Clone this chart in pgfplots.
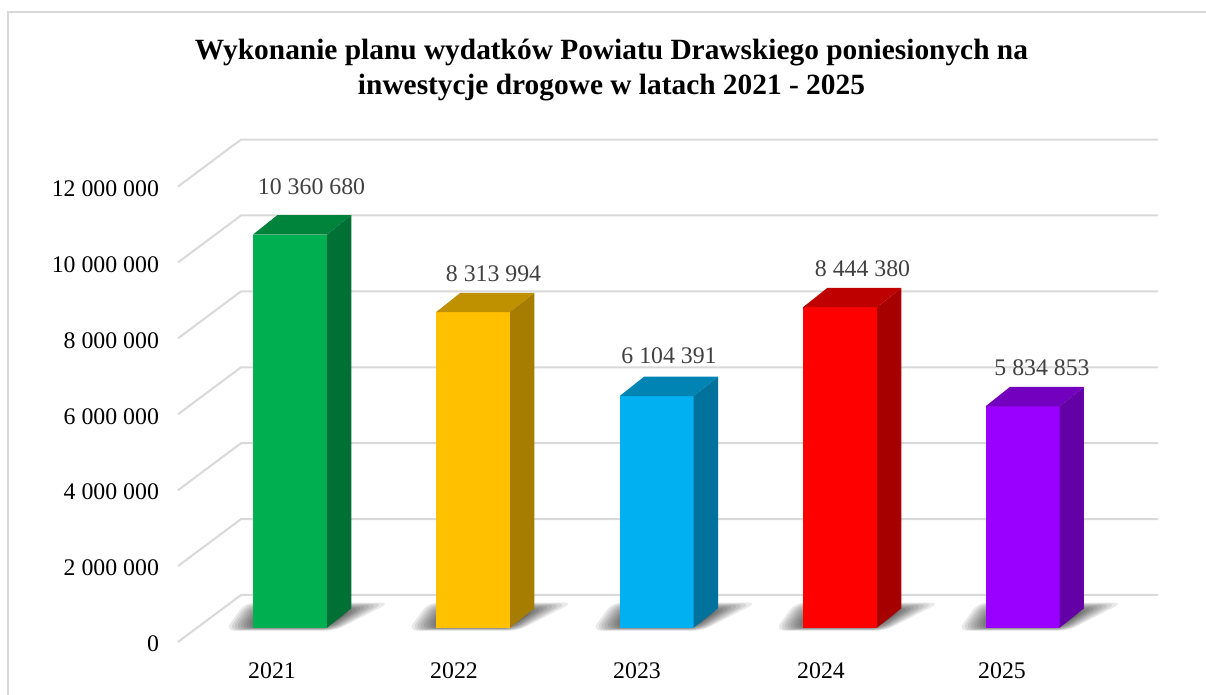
\documentclass[border=0pt]{standalone}
\usepackage{fontspec}
\setmainfont{Liberation Serif}
\usepackage{pgfplots}
\pgfplotsset{compat=1.18}
\definecolor{gridc}{HTML}{D9D9D9}
\definecolor{frontA}{HTML}{00B050}\definecolor{topA}{HTML}{00843C}\definecolor{sideA}{HTML}{007035}
\definecolor{frontB}{HTML}{FFC000}\definecolor{topB}{HTML}{BF9000}\definecolor{sideB}{HTML}{A67D00}
\definecolor{frontC}{HTML}{00B0F0}\definecolor{topC}{HTML}{0084B4}\definecolor{sideC}{HTML}{00729C}
\definecolor{frontD}{HTML}{FF0000}\definecolor{topD}{HTML}{BF0000}\definecolor{sideD}{HTML}{A60000}
\definecolor{frontE}{HTML}{9900FF}\definecolor{topE}{HTML}{7300BF}\definecolor{sideE}{HTML}{6300A6}
\newcommand\lbl{\fontsize{11.9pt}{14pt}\selectfont}
\pgfplotsset{shadowlayer/.style={fill=black,fill opacity=.085,draw=none,rounded corners=4.5pt,x filter/.expression={x+#1}}}
\newcommand\shadowlayers[1]{%
  \addplot[shadowlayer=#1] coordinates {(-28,-79000)(82,-79000)(137,660000)(-8,660000)} -- cycle;
  \addplot[shadowlayer=#1] coordinates {(-25,-68000)(81,-68000)(131,640000)(-6,640000)} -- cycle;
  \addplot[shadowlayer=#1] coordinates {(-22,-56000)(80,-56000)(126,620000)(-4,620000)} -- cycle;
  \addplot[shadowlayer=#1] coordinates {(-19,-45000)(79,-45000)(121,600000)(-2,600000)} -- cycle;
  \addplot[shadowlayer=#1] coordinates {(-16,-34000)(78,-34000)(116,575000)(0,575000)} -- cycle;
  \addplot[shadowlayer=#1] coordinates {(-13,-23000)(77,-23000)(112,550000)(2,550000)} -- cycle;
  \addplot[shadowlayer=#1] coordinates {(-10,-11000)(76,-11000)(108,525000)(4,525000)} -- cycle;
  \addplot[shadowlayer=#1] coordinates {(-7,0)(74,0)(104,500000)(6,500000)} -- cycle;
  \addplot[shadowlayer=#1] coordinates {(-4,0)(74,0)(100,475000)(8,475000)} -- cycle;
  \addplot[shadowlayer=#1] coordinates {(-2,0)(74,0)(97,450000)(10,450000)} -- cycle;
}
\begin{document}
\begin{tikzpicture}
\path[use as bounding box] (0,0) rectangle (603pt,347.5pt);
% tick labels: the front plane of the 3D frame
\begin{axis}[
  at={(0,0)},anchor=south west,scale only axis,width=603pt,height=347.5pt,
  xmin=0,xmax=1206,ymin=-1396577,ymax=16917021,
  axis line style={draw=none},major tick length=0pt,scaled ticks=false,
  xtick={272,454,637,821,1002},
  xticklabels={2021,2022,2023,2024,2025},
  ytick={0,2000000,4000000,6000000,8000000,10000000,12000000},
  yticklabels={0,2 000 000,4 000 000,6 000 000,8 000 000,10 000 000,12 000 000},
  tick label style={font=\lbl,text=black},
  xticklabel style={anchor=center,yshift=12pt},
  yticklabel style={anchor=east,xshift=83pt,yshift=-1pt},
]
\end{axis}
% walls, floor shadows and the bars
\begin{axis}[
  at={(0,0)},anchor=south west,scale only axis,width=603pt,height=347.5pt,
  xmin=0,xmax=1206,ymin=-1773389,ymax=16540209,
  hide axis,no markers,
]
% chart frame
\addplot[gridc,line width=1pt] coordinates {(7.5,-1773389)(7.5,16224000)(1206,16224000)};
% grid
\addplot[gridc,line width=1pt] coordinates {(178,-376812)(241,861661)(1158,861661)};
\addplot[gridc,line width=1pt] coordinates {(178,1623188)(241,2861661)(1158,2861661)};
\addplot[gridc,line width=1pt] coordinates {(178,3623188)(241,4861661)(1158,4861661)};
\addplot[gridc,line width=1pt] coordinates {(178,5623188)(241,6861661)(1158,6861661)};
\addplot[gridc,line width=1pt] coordinates {(178,7623188)(241,8861661)(1158,8861661)};
\addplot[gridc,line width=1pt] coordinates {(178,9623188)(241,10861661)(1158,10861661)};
\addplot[gridc,line width=1pt] coordinates {(178,11623188)(241,12861661)(1158,12861661)};
% shadows
\shadowlayers{253}\shadowlayers{436}\shadowlayers{620}\shadowlayers{803}\shadowlayers{986}
% 2021
\addplot[ybar,bar width=37pt,bar shift=0pt,fill=frontA,draw=none] coordinates {(290,10360680)};
\addplot[fill=topA,draw=none] coordinates {(253,10360680)(277.3,10869244)(351.3,10869244)(327,10360680)} -- cycle;
\addplot[fill=sideA,draw=none] coordinates {(327,0)(351.3,508564)(351.3,10869244)(327,10360680)} -- cycle;
% 2022
\addplot[ybar,bar width=37pt,bar shift=0pt,fill=frontB,draw=none] coordinates {(473,8313994)};
\addplot[fill=topB,draw=none] coordinates {(436,8313994)(460.3,8822558)(534.3,8822558)(510,8313994)} -- cycle;
\addplot[fill=sideB,draw=none] coordinates {(510,0)(534.3,508564)(534.3,8822558)(510,8313994)} -- cycle;
% 2023
\addplot[ybar,bar width=37pt,bar shift=0pt,fill=frontC,draw=none] coordinates {(656.7,6104391)};
\addplot[fill=topC,draw=none] coordinates {(619.7,6104391)(644,6612955)(718,6612955)(693.7,6104391)} -- cycle;
\addplot[fill=sideC,draw=none] coordinates {(693.7,0)(718,508564)(718,6612955)(693.7,6104391)} -- cycle;
% 2024
\addplot[ybar,bar width=37pt,bar shift=0pt,fill=frontD,draw=none] coordinates {(840,8444380)};
\addplot[fill=topD,draw=none] coordinates {(803,8444380)(827.3,8952944)(901.3,8952944)(877,8444380)} -- cycle;
\addplot[fill=sideD,draw=none] coordinates {(877,0)(901.3,508564)(901.3,8952944)(877,8444380)} -- cycle;
% 2025
\addplot[ybar,bar width=37pt,bar shift=0pt,fill=frontE,draw=none] coordinates {(1022.6,5834853)};
\addplot[fill=topE,draw=none] coordinates {(985.6,5834853)(1009.9,6343417)(1083.9,6343417)(1059.6,5834853)} -- cycle;
\addplot[fill=sideE,draw=none] coordinates {(1059.6,0)(1083.9,508564)(1083.9,6343417)(1059.6,5834853)} -- cycle;
\end{axis}
% text in picture coordinates (1 px = 0.5 pt)
\newcommand\at[2]{({#1*0.5pt},{(695-#2)*0.5pt})}
\node[anchor=center,align=center,font=\fontsize{14.69pt}{17.5pt}\selectfont\bfseries,text=black] at \at{611.5}{70}
  {Wykonanie planu wydatków Powiatu Drawskiego poniesionych na\\inwestycje drogowe w latach 2021 - 2025};
\definecolor{lab}{HTML}{404040}
\node[font=\lbl,text=lab] at \at{311.5}{187} {10 360 680};
\node[font=\lbl,text=lab] at \at{493.5}{274} {8 313 994};
\node[font=\lbl,text=lab] at \at{669}{356} {6 104 391};
\node[font=\lbl,text=lab] at \at{862.5}{269} {8 444 380};
\node[font=\lbl,text=lab] at \at{1042}{368} {5 834 853};
\end{tikzpicture}
\end{document}
